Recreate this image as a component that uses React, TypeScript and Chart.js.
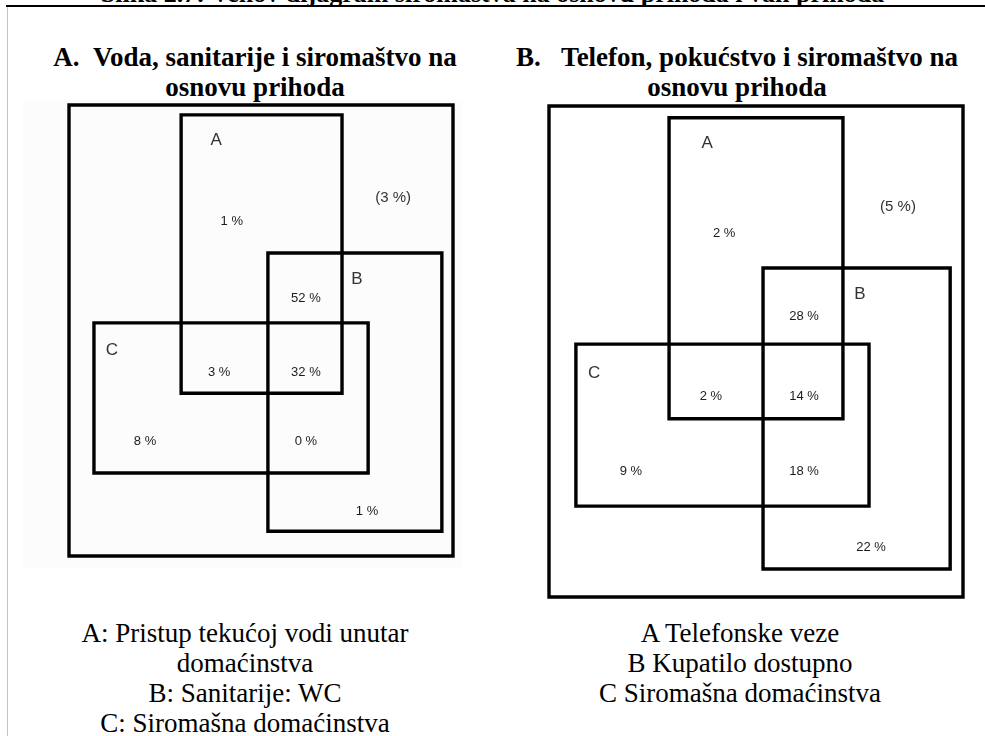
import React, { useEffect, useRef } from "react";
import { Chart, registerables } from "chart.js";

Chart.register(...registerables);

// Whole population box (always 0..100 in both directions)
const populationBox = [0, 0, 100, 100];

// Set names
const setNames = ["A", "B", "C"];

// Panel A: Voda, sanitarije i siromaštvo – set rectangles [left, top, right, bottom] in % of population box
const vodaBoxes = [
  [29.2, 2.2, 71.1, 63.9],
  [51.8, 32.8, 97.1, 94.5],
  [6.5, 48.3, 77.9, 81.6],
];
const vodaNameX = [38.3, 75.0, 11.2];
const vodaNameY = [7.8, 38.6, 54.5];
const vodaShares = ["1 %", "(3 %)", "52 %", "3 %", "32 %", "8 %", "0 %", "1 %"];
const vodaShareX = [42.4, 84.4, 61.7, 39.1, 61.7, 19.8, 61.7, 77.6];
const vodaShareY = [25.9, 20.6, 42.8, 59.2, 59.2, 74.5, 74.5, 90.2];

// Panel B: Telefon, pokućstvo i siromaštvo
const telefonBoxes = [
  [29.0, 2.4, 71.0, 63.7],
  [51.7, 33.0, 96.9, 94.3],
  [6.5, 48.5, 77.3, 81.5],
];
const telefonNameX = [38.2, 75.1, 10.9];
const telefonNameY = [7.5, 38.3, 54.4];
const telefonShares = ["2 %", "(5 %)", "28 %", "2 %", "14 %", "9 %", "18 %", "22 %"];
const telefonShareX = [42.3, 84.3, 61.6, 39.1, 61.6, 19.8, 61.6, 77.8];
const telefonShareY = [25.9, 20.6, 42.8, 59.1, 59.1, 74.5, 74.5, 90.0];

const pageHeading = "Slika 2.7: Venov dijagram siromaštva na osnovu prihoda i van prihoda";
const vodaTitle = ["A.\u00a0\u00a0Voda, sanitarije i siromaštvo na", "osnovu prihoda"];
const telefonTitle = ["B.\u00a0\u00a0\u00a0Telefon, pokućstvo i siromaštvo na", "osnovu prihoda"];
const vodaLegend = ["A: Pristup tekućoj vodi unutar", "domaćinstva", "B: Sanitarije: WC", "C: Siromašna domaćinstva"];
const telefonLegend = ["A Telefonske veze", "B Kupatilo dostupno", "C Siromašna domaćinstva"];

const SERIF = '"Liberation Serif", "Times New Roman", serif';
const SANS = '"Liberation Sans", Arial, sans-serif';

type PanelProps = {
  boxes: number[][];
  nameX: number[];
  nameY: number[];
  shares: string[];
  shareX: number[];
  shareY: number[];
  left: number;
  top: number;
  width: number;
  height: number;
  pad: number;
};

function rectPoints(b: number[]) {
  return [
    { x: b[0], y: b[1] },
    { x: b[2], y: b[1] },
    { x: b[2], y: b[3] },
    { x: b[0], y: b[3] },
    { x: b[0], y: b[1] },
  ];
}

function VennPanel(props: PanelProps) {
  const ref = useRef<HTMLCanvasElement>(null);
  useEffect(() => {
    if (!ref.current) return;
    const allBoxes = [populationBox, ...props.boxes];
    const datasets = allBoxes.map((b, i) => ({
      label: i === 0 ? "Sva domaćinstva" : setNames[i - 1],
      data: rectPoints(b),
      showLine: true,
      borderColor: "#000000",
      backgroundColor: "#000000",
      borderWidth: 3.4,
      pointRadius: 0,
      pointHoverRadius: 0,
      fill: false,
      tension: 0,
      borderJoinStyle: "miter" as const,
      borderCapStyle: "square" as const,
      clip: false as const,
    }));

    const labelPlugin = {
      id: "vennLabels",
      afterDatasetsDraw(chart: any) {
        const ctx = chart.ctx as CanvasRenderingContext2D;
        const xs = chart.scales.x;
        const ys = chart.scales.y;
        ctx.save();
        ctx.textAlign = "center";
        ctx.textBaseline = "middle";
        // set names
        ctx.fillStyle = "#333333";
        ctx.font = `17px ${SANS}`;
        setNames.forEach((n, i) => {
          ctx.fillText(n, xs.getPixelForValue(props.nameX[i]), ys.getPixelForValue(props.nameY[i]));
        });
        // shares
        props.shares.forEach((s, i) => {
          const outside = s.startsWith("(");
          ctx.font = outside ? `15px ${SANS}` : `13px ${SANS}`;
          ctx.fillStyle = outside ? "#333333" : "#1c1c1c";
          ctx.fillText(s, xs.getPixelForValue(props.shareX[i]), ys.getPixelForValue(props.shareY[i]));
        });
        ctx.restore();
      },
    };

    const chart = new Chart(ref.current, {
      type: "scatter",
      data: { datasets },
      options: {
        responsive: false,
        devicePixelRatio: 1,
        animation: false,
        layout: { padding: props.pad },
        plugins: {
          legend: { display: false },
          tooltip: { enabled: false },
          title: { display: false },
        },
        scales: {
          x: { type: "linear", min: 0, max: 100, display: false },
          y: { type: "linear", min: 0, max: 100, reverse: true, display: false },
        },
      },
      plugins: [labelPlugin],
    } as any);
    return () => chart.destroy();
  }, []);
  return (
    <canvas
      ref={ref}
      width={props.width}
      height={props.height}
      style={{ position: "absolute", left: props.left, top: props.top, width: props.width, height: props.height }}
    />
  );
}

function TextBlock({ lines, cx, top, bold }: { lines: string[]; cx: number; top: number; bold?: boolean }) {
  return (
    <div
      style={{
        position: "absolute",
        left: cx - 240,
        width: 480,
        top,
        textAlign: "center",
        fontFamily: SERIF,
        fontSize: 27,
        lineHeight: "30px",
        fontWeight: bold ? 700 : 400,
        color: "#000",
        whiteSpace: "nowrap",
      }}
    >
      {lines.map((l, i) => (
        <div key={i}>{l}</div>
      ))}
    </div>
  );
}

export default function App() {
  const pad = 6;
  return (
    <div
      style={{
        position: "absolute",
        left: 0,
        top: 0,
        width: 985,
        height: 736,
        overflow: "hidden",
        background: "#ffffff",
      }}
    >
      <div
        style={{
          position: "absolute",
          left: 0,
          width: 985,
          top: -21,
          textAlign: "center",
          fontFamily: SERIF,
          fontWeight: 700,
          fontSize: 26,
          lineHeight: "30px",
          whiteSpace: "nowrap",
          paddingLeft: 0,
        }}
      >
        {pageHeading}
      </div>
      <div style={{ position: "absolute", left: 6, top: 5, width: 979, height: 2, background: "#000" }} />
      <div style={{ position: "absolute", left: 7, top: 7, width: 1, height: 729, background: "#c4c4c4" }} />
      <div style={{ position: "absolute", left: 23, top: 100, width: 440, height: 468, background: "#fcfcfc" }} />

      <TextBlock lines={vodaTitle} cx={255} top={42} bold />
      <TextBlock lines={telefonTitle} cx={737} top={42} bold />

      <VennPanel
        boxes={vodaBoxes}
        nameX={vodaNameX}
        nameY={vodaNameY}
        shares={vodaShares}
        shareX={vodaShareX}
        shareY={vodaShareY}
        left={69 - pad}
        top={105 - pad}
        width={384 + 2 * pad}
        height={451 + 2 * pad}
        pad={pad}
      />
      <VennPanel
        boxes={telefonBoxes}
        nameX={telefonNameX}
        nameY={telefonNameY}
        shares={telefonShares}
        shareX={telefonShareX}
        shareY={telefonShareY}
        left={549 - pad}
        top={106 - pad}
        width={414 + 2 * pad}
        height={491 + 2 * pad}
        pad={pad}
      />

      <TextBlock lines={vodaLegend} cx={245} top={618} />
      <TextBlock lines={telefonLegend} cx={740} top={618} />
    </div>
  );
}
